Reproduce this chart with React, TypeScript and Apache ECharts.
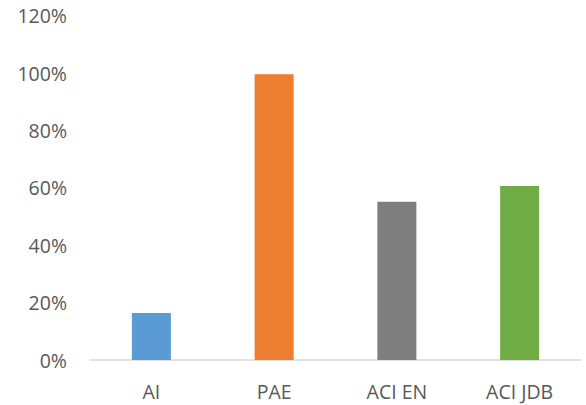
import React, { useEffect, useRef } from "react";
import * as echarts from "echarts";

const categories = ["AI", "PAE", "ACI EN", "ACI JDB"];
const values = [0.164, 0.996, 0.551, 0.606];
const barColors = ["#5B9BD5", "#ED7D31", "#7F7F7F", "#70AD47"];

export default function App() {
  const ref = useRef<HTMLDivElement>(null);
  useEffect(() => {
    document.body.style.margin = "0";
    const chart = echarts.init(ref.current!, null, { renderer: "svg" });
    chart.setOption({
      animation: false,
      backgroundColor: "#ffffff",
      grid: { left: 90, right: 5, top: 15.6, bottom: 45, containLabel: false },
      xAxis: {
        type: "category",
        data: categories,
        axisTick: { show: false },
        axisLine: { lineStyle: { color: "#D9D9D9", width: 1.5 } },
        axisLabel: { color: "#595959", fontSize: 19.5, fontFamily: "Open Sans", margin: 21 },
      },
      yAxis: {
        type: "value",
        min: 0,
        max: 1.2,
        interval: 0.2,
        splitLine: { show: false },
        axisLine: { show: false },
        axisTick: { show: false },
        axisLabel: {
          color: "#595959",
          fontSize: 19.5,
          fontFamily: "Open Sans",
          margin: 23,
          formatter: (v: number) => Math.round(v * 100) + "%",
        },
      },
      series: [
        {
          type: "bar",
          barWidth: 39,
          data: values.map((v, i) => ({ value: v, itemStyle: { color: barColors[i] } })),
        },
      ],
    });
    return () => chart.dispose();
  }, []);
  return <div ref={ref} style={{ position: "absolute", left: 0, top: 0, width: 586, height: 405 }} />;
}
